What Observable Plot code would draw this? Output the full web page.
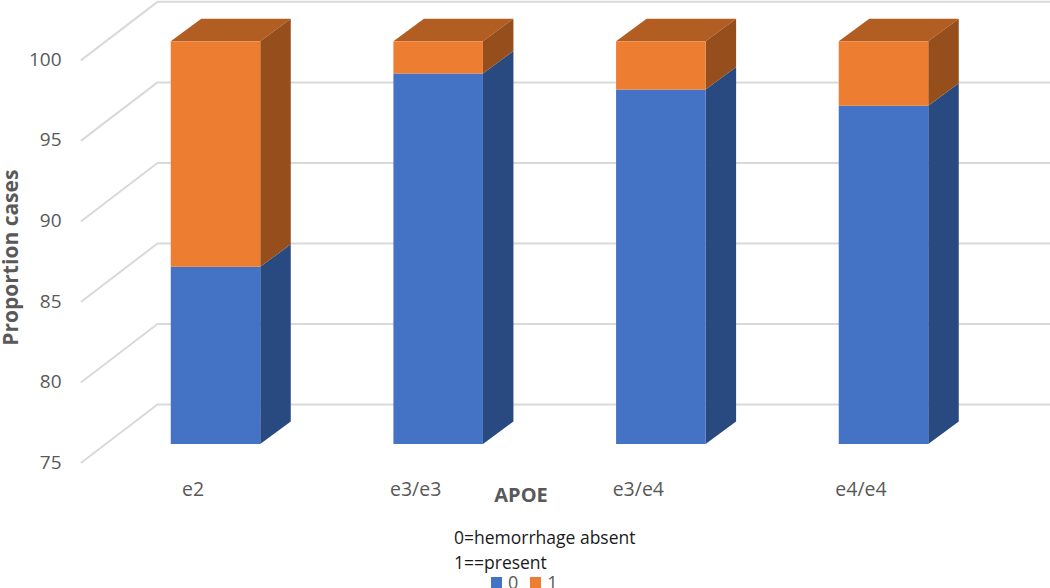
<!DOCTYPE html>
<html>
<head>
<meta charset="utf-8">
<script src="https://cdn.jsdelivr.net/npm/d3@7"></script>
<script src="https://cdn.jsdelivr.net/npm/@observablehq/plot@0.6"></script>
<style>
html,body{margin:0;padding:0;background:#fff;overflow:hidden;width:1050px;height:588px}
#chart svg{display:block}
#notes{position:absolute;left:454px;top:525px;font:17.5px/25px "Open Sans",sans-serif;color:#1a1a1a;white-space:nowrap}
#legend{position:absolute;left:491px;top:575px;height:14px;white-space:nowrap;line-height:14px}
#legend>*{min-height:0;height:14px;margin:0;line-height:14px;display:flex;align-items:center}
#legend span{margin-right:12px;line-height:14px;height:14px}
#legend svg{margin-right:6px}
</style>
</head>
<body>
<div id="chart"></div>
<div id="notes"><div>0=hemorrhage absent</div><div>1==present</div></div>
<div id="legend"></div>
<script>
const categories = ["e2", "e3/e3", "e3/e4", "e4/e4"];
const absent = [86, 98, 97, 96];
const present = [14, 2, 3, 4];
const yTicks = [75, 80, 85, 90, 95, 100];
const seriesNames = ["0", "1"];
const seriesColors = ["#4472c4", "#ed7d31"];
const sideColors = ["#294a80", "#964f1c"];
const topColor = "#b25d22";

// Oblique projection, in scale units
const halfBar = 0.201, depthX = 0.137, depthY = 1.40;
const wallFrontX = -0.604, wallBackX = -0.263, wallEndX = 3.76;
const wallFrontY = -1.12, wallBackY = 2.48;
const font = '"Open Sans",sans-serif', gray = "#595959";

const segments = categories.flatMap((c, i) => [
  {i, s: 0, y1: 75, y2: absent[i]},
  {i, s: 1, y1: absent[i], y2: absent[i] + present[i]}
]);
const sides = segments.flatMap(d => [0, 1].map(t => ({
  key: d.i + "-" + d.s, s: d.s,
  x: d.i + halfBar + t * depthX,
  y1: d.y1 + t * depthY, y2: d.y2 + t * depthY
})));
const tops = categories.flatMap((c, i) => [0, 1].map(t => ({
  key: i,
  x1: i - halfBar + t * depthX, x2: i + halfBar + t * depthX,
  y: absent[i] + present[i] + t * depthY
})));
const grid = yTicks.flatMap(v => [
  {v, x: wallFrontX, y: v + wallFrontY},
  {v, x: wallBackX, y: v + wallBackY},
  {v, x: wallEndX, y: v + wallBackY}
]);

const chart = Plot.plot({
  width: 1050, height: 520,
  marginLeft: 61, marginBottom: 38, marginTop: 0, marginRight: 0,
  style: {fontFamily: font, background: "#fff"},
  x: {type: "linear", domain: [0, 3], range: [215.5, 883.5]},
  y: {domain: [75, 100], range: [444, 41.3]},
  marks: [
    Plot.line(grid, {x: "x", y: "y", z: "v", stroke: "#d9d9d9", strokeWidth: 2}),
    Plot.area(tops, {x1: "x1", x2: "x2", y1: "y", z: "key", fill: topColor}),
    Plot.area(sides, {x1: "x", y1: "y1", y2: "y2", z: "key", fill: d => sideColors[d.s]}),
    Plot.rect(segments, {x1: d => d.i - halfBar, x2: d => d.i + halfBar, y1: "y1", y2: "y2", fill: d => seriesColors[d.s]}),
    Plot.axisY(yTicks, {anchor: "left", tickSize: 0, tickPadding: 0, dy: 18, label: null, fontSize: 19, fill: gray}),
    Plot.axisX([0, 1, 2, 3], {anchor: "bottom", tickSize: 0, tickPadding: 0, dx: -23, tickFormat: i => categories[i], label: null, fontSize: 19.5, fill: gray}),
    Plot.text([{y: 86.6, t: "Proportion cases"}], {frameAnchor: "left", textAnchor: "middle", y: "y", text: "t", rotate: -90, dx: -50, fontSize: 21, fontWeight: 700, fill: gray}),
    Plot.text([{x: 1.37, y: 71.8, t: "APOE"}], {x: "x", y: "y", text: "t", fontSize: 20, fontWeight: 700, fill: gray})
  ]
});
document.getElementById("chart").append(chart);

const legend = Plot.legend({
  color: {type: "ordinal", domain: seriesNames, range: seriesColors},
  swatchSize: 11, swatchWidth: 11, swatchHeight: 11,
  style: {fontFamily: font, fontSize: "18px", color: gray}
});
document.getElementById("legend").append(legend);
</script>
</body>
</html>
